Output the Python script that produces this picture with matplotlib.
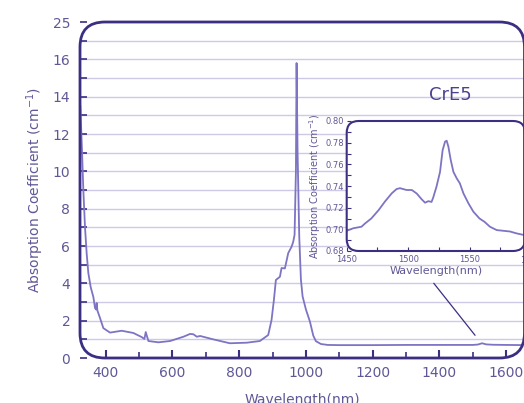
import matplotlib
matplotlib.use("Agg")
import matplotlib.pyplot as plt
from matplotlib.patches import FancyBboxPatch
from matplotlib.transforms import IdentityTransform
import numpy as np

plt.rcParams['font.family'] = ['DejaVu Sans']

# ---------------- data ----------------
main_wl = [324, 329, 333, 338, 343, 348, 355, 363, 368, 371, 373, 375, 383, 393, 413,
           448, 483, 508, 516, 520, 528, 558, 593, 633, 653, 663, 673, 683, 722, 772,
           823, 862, 887, 897, 904, 910, 922, 927, 937, 947, 957, 962, 966, 970, 972,
           975, 980, 985, 990, 1000, 1012, 1022, 1030, 1045, 1065, 1100, 1200, 1300,
           1400, 1500, 1515, 1528, 1540, 1560, 1600, 1655]
main_abs = [13.5, 11.1, 9.0, 7.0, 5.6, 4.55, 3.8, 3.27, 2.68, 2.6, 2.95, 2.55, 2.14, 1.6, 1.36,
            1.46, 1.34, 1.12, 1.02, 1.39, 0.91, 0.84, 0.91, 1.14, 1.29, 1.27, 1.14, 1.18, 1.0, 0.79,
            0.82, 0.91, 1.23, 2.04, 3.1, 4.18, 4.35, 4.82, 4.8, 5.62, 5.96, 6.23, 6.6, 10.0, 15.8,
            11.0, 6.5, 4.2, 3.3, 2.6, 1.95, 1.2, 0.9, 0.75, 0.7, 0.69, 0.69, 0.7,
            0.7, 0.7, 0.72, 0.79, 0.73, 0.71, 0.7, 0.69]

inset_wl = [1450, 1455.4, 1462, 1465, 1470, 1476, 1481, 1486.6, 1490.6, 1493.3, 1498.7, 1503,
            1507, 1511, 1513.7, 1516.4, 1519, 1520.4, 1523, 1525.9, 1528, 1530, 1531.3, 1532.7,
            1534.6, 1536.8, 1539.5, 1542, 1545, 1549, 1553, 1558, 1562, 1566.5, 1572, 1577,
            1582.8, 1588, 1594]
inset_abs = [0.6987, 0.701, 0.7024, 0.7055, 0.710, 0.7178, 0.7255, 0.7332, 0.7372, 0.738,
             0.7363, 0.7363, 0.733, 0.7277, 0.7246, 0.726, 0.7253, 0.7295, 0.7393, 0.753, 0.773,
             0.781, 0.7818, 0.7763, 0.764, 0.753, 0.747, 0.7425, 0.733, 0.724, 0.7163, 0.710,
             0.707, 0.7024, 0.6993, 0.6987, 0.698, 0.6963, 0.6948]

x_major = [400, 600, 800, 1000, 1200, 1400, 1600]
x_minor = [500, 700, 900, 1100, 1300, 1500]
y_ticks = [0, 2, 4, 6, 8, 10, 12, 14, 16, 18]
y_ticklabels = ['0', '2', '4', '6', '8', '10', '12', '14', '16', '25']
grid_levels = list(range(1, 18))

inset_xticks = [1450, 1500, 1550]
inset_yticks = [0.68, 0.70, 0.72, 0.74, 0.76, 0.78, 0.80]

# ---------------- style ----------------
FRAME = '#3b2f82'
LINE = '#7d74c4'
GRID = '#cdc9e6'
TXT = '#5f5896'

fig = plt.figure(figsize=(5.24, 4.03), dpi=100)
W, H = 524, 403

def rounded_frame(ax, r, lw):
    bb = ax.get_window_extent()
    p = FancyBboxPatch((bb.x0, bb.y0), bb.width, bb.height,
                       boxstyle=f"round,pad=0,rounding_size={r}",
                       transform=IdentityTransform(), facecolor='none',
                       edgecolor=FRAME, linewidth=lw, clip_on=False, zorder=10)
    fig.add_artist(p)
    clip = FancyBboxPatch((bb.x0, bb.y0), bb.width, bb.height,
                          boxstyle=f"round,pad=0,rounding_size={r}",
                          transform=IdentityTransform(), facecolor='none', edgecolor='none')
    return clip

# main axes
ax = fig.add_axes([80 / W, (403 - 358) / H, 444.5 / W, 336 / H])
ax.set_xlim(323, 1655)
ax.set_ylim(0, 18)
for s in ax.spines.values():
    s.set_visible(False)
clip = rounded_frame(ax, 25, 2.0)

for g in grid_levels:
    gl = ax.axhline(g, color=GRID, lw=1.0, zorder=1)
    gl.set_clip_path(clip)

ln, = ax.plot(main_wl, main_abs, color=LINE, lw=1.3, zorder=3)
ln.set_clip_path(clip)

ax.set_xticks(x_major)
ax.set_xticks(x_minor, minor=True)
ax.set_yticks(y_ticks)
ax.set_yticklabels(y_ticklabels)
ax.set_yticks(grid_levels, minor=True)
ax.tick_params(axis='both', which='both', direction='in', colors=FRAME,
               labelcolor=TXT, labelsize=10)
ax.tick_params(axis='x', which='major', length=6, width=1.5, pad=6)
ax.tick_params(axis='x', which='minor', length=4, width=1.2)
ax.tick_params(axis='y', which='both', length=5, width=1.2, pad=7)
ax.set_xlabel('Wavelength(nm)', color=TXT, fontsize=10, labelpad=9)
ax.set_ylabel('Absorption Coefficient (cm$^{-1}$)', color=TXT, fontsize=10, labelpad=5)
ax.text(1432, 14.1, 'CrE5', color='#4a4290', fontsize=13, ha='center', va='center')

ax.annotate('', xy=(1512, 1.1), xytext=(1378, 4.12),
            arrowprops=dict(arrowstyle='-', color=FRAME, lw=0.9))

# inset axes
ax2 = fig.add_axes([346.7 / W, (403 - 251) / H, 178.3 / W, 130 / H])
ax2.set_xlim(1450, 1595)
ax2.set_ylim(0.68, 0.80)
ax2.patch.set_facecolor('white')
for s in ax2.spines.values():
    s.set_visible(False)
clip2 = rounded_frame(ax2, 12, 1.5)
ln2, = ax2.plot(inset_wl, inset_abs, color=LINE, lw=1.3)
ln2.set_clip_path(clip2)
ax2.set_xticks(inset_xticks)
ax2.set_xticks([1475, 1525, 1575], minor=True)
ax2.set_yticks(inset_yticks)
ax2.set_yticklabels([f'{v:.2f}' for v in inset_yticks])
ax2.set_yticks(np.arange(0.69, 0.80, 0.02), minor=True)
ax2.tick_params(axis='both', which='both', direction='in', colors=FRAME,
                labelcolor=TXT, labelsize=6, length=3, width=0.8, pad=2)
ax2.tick_params(axis='x', which='both', pad=3)
ax2.text(1600, -0.035, '1600', transform=ax2.get_xaxis_transform(), color=TXT,
         fontsize=6, ha='center', va='top', clip_on=False)
ax2.set_xlabel('Wavelength(nm)', color=TXT, fontsize=8, labelpad=1)
ax2.set_ylabel('Absorption Coefficient (cm$^{-1}$)', color=TXT, fontsize=7, labelpad=2)

fig.savefig('out.png', dpi=100)
